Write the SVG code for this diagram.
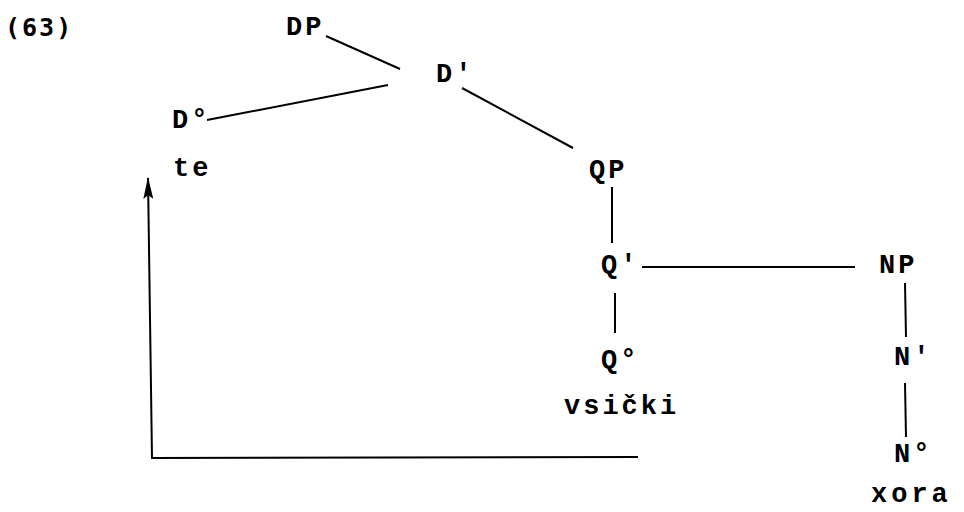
<svg xmlns="http://www.w3.org/2000/svg" width="964" height="512" viewBox="0 0 964 512">
<style>
text{font-family:"Liberation Mono","Courier New",monospace;font-weight:bold;font-size:27px;fill:#000;letter-spacing:3px}
text.num{font-family:"DejaVu Sans Mono",monospace;font-size:25px;letter-spacing:2px}
.c line,.c path{stroke:#000;stroke-width:2;fill:none}
</style>
<defs>
<marker id="ah" viewBox="0 0 22 10" refX="21" refY="5" markerWidth="22" markerHeight="10" markerUnits="userSpaceOnUse" orient="auto">
<path d="M22,5 L0,0 L4,5 L0,10 Z" fill="#000"/>
</marker>
</defs>
<text class="num" x="5" y="36">(63)</text>
<g id="DP"><text x="286" y="35">DP</text></g>
<g id="Dbar"><text x="436" y="82">D'</text></g>
<g id="D0"><text x="172" y="128">D°</text></g>
<g id="te"><text x="173" y="176">te</text></g>
<g id="QP"><text x="589" y="178">QP</text></g>
<g id="Qbar"><text x="601" y="273">Q'</text></g>
<g id="Q0"><text x="601" y="368">Q°</text></g>
<g id="vsicki"><text x="564" y="414">vsički</text></g>
<g id="NP"><text x="879" y="273">NP</text></g>
<g id="Nbar"><text x="894" y="365">N'</text></g>
<g id="N0"><text x="894" y="462">N°</text></g>
<g id="xora"><text x="871" y="502" style="letter-spacing:4px">xora</text></g>
<g class="c" id="connectors">
<line x1="326" y1="36" x2="400" y2="69"/>
<line x1="388" y1="85" x2="207" y2="120"/>
<line x1="462" y1="88" x2="573" y2="148"/>
<line x1="612" y1="187" x2="612" y2="243"/>
<line x1="642" y1="267" x2="855" y2="267"/>
<line x1="615" y1="293" x2="615" y2="333"/>
<line x1="905" y1="283" x2="906" y2="337"/>
<line x1="905" y1="383" x2="906" y2="437"/>
<path d="M638,457 L152,458 L148,178" marker-end="url(#ah)"/>
</g>
</svg>
